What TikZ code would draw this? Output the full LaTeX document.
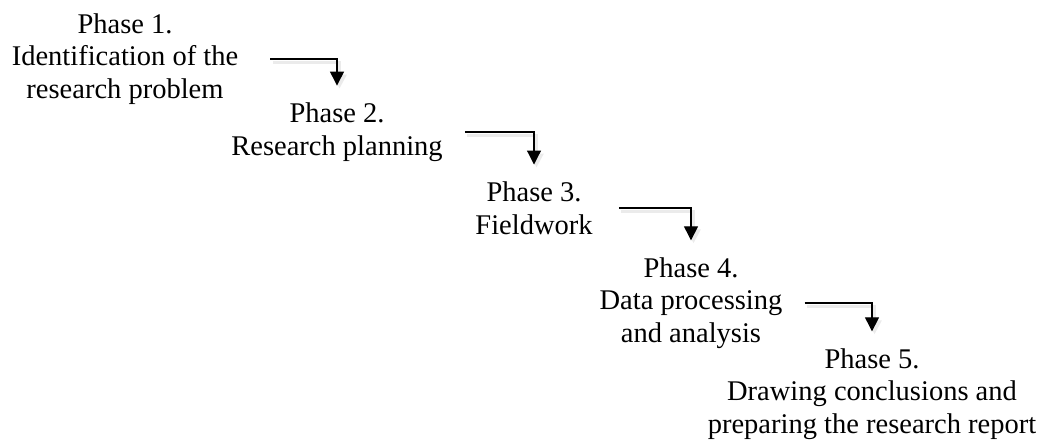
\documentclass[tikz,border=0pt]{standalone}
\usepackage{fontspec}
\setmainfont{Liberation Serif}
\usetikzlibrary{arrows.meta, positioning}

\begin{document}
\begin{tikzpicture}[
    x=1pt, y=-1pt,
    phase/.style={align=center, inner sep=0pt, font=\fontsize{28.5pt}{32.5pt}\selectfont},
    arrow/.style={-{Triangle[width=14pt, length=14pt]}, line width=1.1pt, black, shorten >=17pt},
    shade/.style={draw=black!8, line width=3pt, transform canvas={shift={(2.5pt,-3pt)}}}
]

\useasboundingbox (0,0) rectangle (1040,439);

% Phases
\node[phase] (p1) at (125, 59) {Phase 1.\\Identification of the\\research problem};
\node[phase] (p2) at (337, 132) {Phase 2.\\Research planning};
\node[phase] (p3) at (534, 208) {Phase 3.\\Fieldwork};
\node[phase] (p4) at (691, 303) {Phase 4.\\Data processing\\and analysis};
\node[phase] (p5) at (872, 394) {Phase 5.\\Drawing conclusions and\\preparing the research report};

% Arrows between phases (soft shadow first)
\foreach \a/\b/\gap in {p1/p2/32, p2/p3/22, p3/p4/26, p4/p5/22} {
    \draw[arrow, shade] ([xshift=\gap pt]\a.east) -| (\b.north);
    \draw[arrow] ([xshift=\gap pt]\a.east) -| (\b.north);
}

\end{tikzpicture}
\end{document}
